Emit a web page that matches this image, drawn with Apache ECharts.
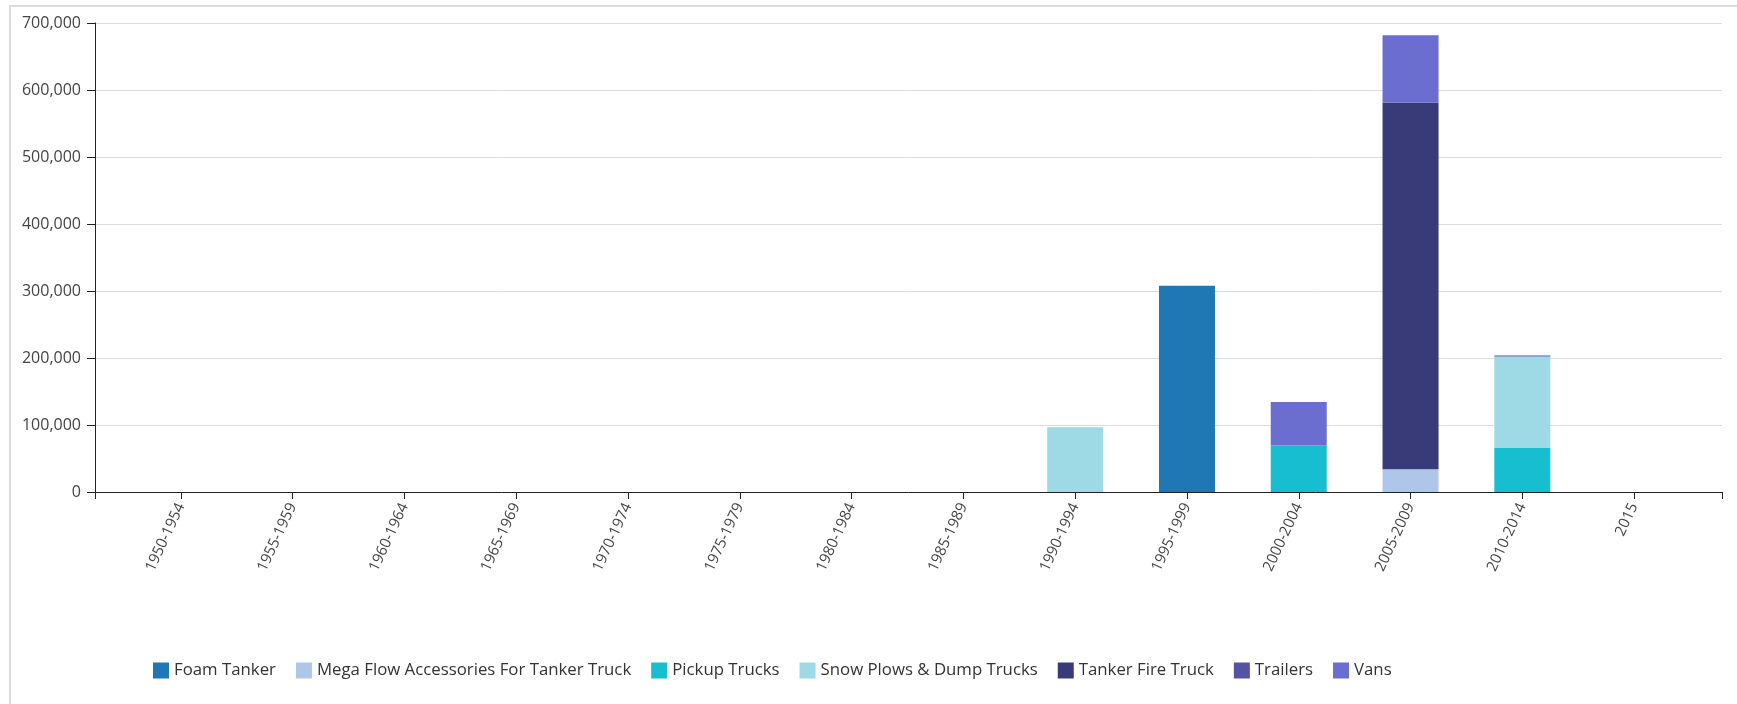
<!DOCTYPE html>
<html>
<head>
<meta charset="utf-8">
<title>Fleet value by model year</title>
<script src="https://cdn.jsdelivr.net/npm/echarts@6/dist/echarts.min.js"></script>
<style>
  html, body { margin: 0; padding: 0; background: #fff; overflow: hidden; }
  #frame { position: absolute; left: 9px; top: 5px; width: 2000px; height: 1000px; border: 2px solid #dcdcdc; }
  #chart { position: absolute; left: 0; top: 0; width: 1737px; height: 704px; }
</style>
</head>
<body>
<div id="frame"></div>
<div id="chart"></div>
<script>
// Model-year buckets
const categories = ['1950-1954', '1955-1959', '1960-1964', '1965-1969', '1970-1974', '1975-1979',
  '1980-1984', '1985-1989', '1990-1994', '1995-1999', '2000-2004', '2005-2009', '2010-2014', '2015'];

// Value per vehicle type and bucket
const foamTanker      = [null, null, null, null, null, null, null, null, null, 308000, null, null, null, null];
const megaFlow        = [null, null, null, null, null, null, null, null, null, null, null, 33800, null, null];
const pickupTrucks    = [null, null, null, null, null, null, null, null, null, null, 69300, null, 65700, null];
const snowPlows       = [null, null, null, null, null, null, null, null, 96600, null, null, null, 136400, null];
const tankerFireTruck = [null, null, null, null, null, null, null, null, null, null, null, 547400, null, null];
const trailers        = [null, null, null, null, null, null, null, null, null, null, null, null, 1500, null];
const vans            = [null, null, null, null, null, null, null, null, null, null, 65000, 100400, null, null];

const seriesDefs = [
  { name: 'Foam Tanker', data: foamTanker, color: '#1f77b4' },
  { name: 'Mega Flow Accessories For Tanker Truck', data: megaFlow, color: '#aec7e8' },
  { name: 'Pickup Trucks', data: pickupTrucks, color: '#17becf' },
  { name: 'Snow Plows & Dump Trucks', data: snowPlows, color: '#9edae5' },
  { name: 'Tanker Fire Truck', data: tankerFireTruck, color: '#393b79' },
  { name: 'Trailers', data: trailers, color: '#5254a3' },
  { name: 'Vans', data: vans, color: '#6b6ecf' }
];

const yMax = 700000;
const yStep = 100000;
const font = "'Open Sans', sans-serif";

const chart = echarts.init(document.getElementById('chart'), null, { renderer: 'canvas' });

chart.setOption({
  animation: false,
  color: seriesDefs.map(s => s.color),
  grid: [
    // outer frame of the plot: y axis, gridlines and the bottom axis line
    { left: 95, right: 15, top: 23, bottom: 212, containLabel: false },
    // inner band area holding the bars, padded in from both ends
    { left: 125, right: 47, top: 23, bottom: 212, containLabel: false }
  ],
  legend: {
    left: 153,
    top: 662,
    padding: 0,
    itemWidth: 16,
    itemHeight: 16,
    itemGap: 20,
    icon: 'rect',
    textStyle: { fontFamily: font, fontSize: 16.8, color: '#333' },
    data: seriesDefs.map(s => s.name)
  },
  xAxis: [
    {
      gridIndex: 0,
      type: 'value',
      min: 0,
      max: 1,
      interval: 1,
      axisLine: { show: true, lineStyle: { color: '#222', width: 1 } },
      axisTick: { show: true, length: 7, lineStyle: { color: '#222' } },
      axisLabel: { show: false },
      splitLine: { show: false }
    },
    {
      gridIndex: 1,
      type: 'category',
      data: categories,
      boundaryGap: true,
      axisLine: { show: false },
      axisTick: { show: true, alignWithLabel: true, interval: 0, length: 7, lineStyle: { color: '#222' } },
      axisLabel: {
        interval: 0,
        rotate: 65,
        margin: 12,
        fontFamily: font,
        fontSize: 15,
        color: '#444'
      },
      splitLine: { show: false }
    }
  ],
  yAxis: [
    {
      gridIndex: 0,
      type: 'value',
      min: 0,
      max: yMax,
      interval: yStep,
      axisLine: { show: true, lineStyle: { color: '#222', width: 1 } },
      axisTick: { show: true, length: 8, lineStyle: { color: '#222' } },
      axisLabel: {
        margin: 14,
        fontFamily: font,
        fontSize: 16,
        color: '#444',
        formatter: v => v.toLocaleString('en-US')
      },
      splitLine: { show: true, lineStyle: { color: '#dcdcdc', width: 1 } }
    },
    {
      gridIndex: 1,
      type: 'value',
      min: 0,
      max: yMax,
      interval: yStep,
      show: false,
      splitLine: { show: false }
    }
  ],
  series: seriesDefs.map(s => ({
    name: s.name,
    type: 'bar',
    xAxisIndex: 1,
    yAxisIndex: 1,
    stack: 'total',
    barWidth: 56,
    data: s.data,
    itemStyle: { color: s.color }
  }))
});
</script>
</body>
</html>
